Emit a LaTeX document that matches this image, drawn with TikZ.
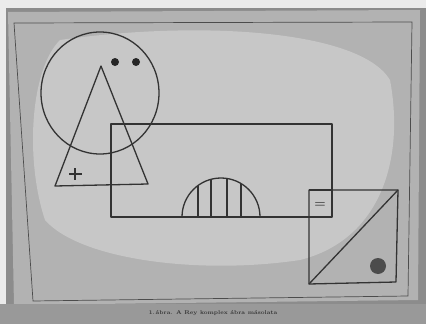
\documentclass[tikz,border=0pt]{standalone}
\begin{document}
\begin{tikzpicture}[x=1pt,y=-1pt,
  ink/.style={draw=black!80, line width=1.3pt, line join=round},
  thin ink/.style={draw=black!70, line width=0.7pt}]
\useasboundingbox (0,0) rectangle (426,324);
% photo background
\fill[white!92!black] (0,0) rectangle (426,324);
\fill[black!45] (6,8) rectangle (426,324);
\fill[black!30] (8,12) -- (420,10) -- (418,300) -- (14,305) -- cycle;
\fill[black!22] (60,40) .. controls (200,20) and (360,30) .. (390,80)
  .. controls (405,160) and (380,240) .. (300,260)
  .. controls (200,275) and (80,260) .. (45,220)
  .. controls (25,160) and (30,70) .. cycle;
\fill[black!40] (0,304) rectangle (426,324);
% frame
\draw[thin ink] (14,23) -- (412,22) -- (408,296) -- (33,301) -- cycle;
% circle with dots
\draw[ink] (100,93) ellipse [x radius=59, y radius=61];
\fill[black!85] (115,62) circle [radius=4];
\fill[black!85] (136,62) circle [radius=4];
% triangle
\draw[ink] (101,66) -- (55,186) -- (148,184) -- cycle;
\draw[ink] (75,168) -- (75,180) (69,174) -- (82,174);
% big rectangle
\draw[ink] (111,124) rectangle (332,217);
% semicircle with vertical lines
\draw[ink] (182,217) arc [start angle=180, end angle=360, x radius=39, y radius=39];
\foreach \xx in {198,211,227,241} {
  \pgfmathsetmacro{\dy}{sqrt(39*39-(\xx-221)*(\xx-221))}
  \draw[ink] (\xx,217) -- (\xx,217-\dy);
}
% small square with =
\draw[ink] (309,190) -- (332,190);
\node[font=\fontsize{13}{13}\selectfont\bfseries, text=black!80] (eq) at (320,205) {=};
% big square with diagonal
\draw[ink] (309,190) -- (398,190) -- (396,282) -- (309,284) -- cycle;
\draw[ink] (309,284) -- (398,190);
\fill[black!70] (378,266) circle [radius=8];
% caption
\node[font=\fontsize{5.5}{6}\selectfont\bfseries, text=black!80] (cap) at (213,313) {1.\,ábra. A Rey komplex ábra másolata};
\end{tikzpicture}
\end{document}
